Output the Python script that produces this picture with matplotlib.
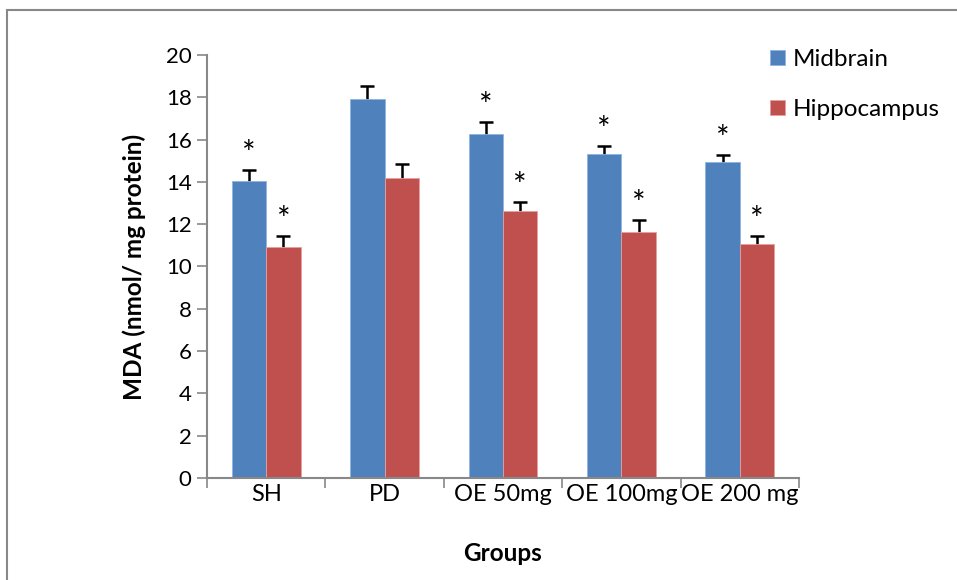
import matplotlib.pyplot as plt
import matplotlib.patches as patches
import numpy as np

# Data
groups = ["SH", "PD", "OE 50mg", "OE 100mg", "OE 200 mg"]
midbrain = [14.05, 17.92, 16.26, 15.32, 14.92]
midbrain_err = [0.50, 0.60, 0.57, 0.38, 0.33]
hippocampus = [10.92, 14.18, 12.62, 11.63, 11.08]
hippocampus_err = [0.50, 0.65, 0.43, 0.57, 0.34]
midbrain_sig = [True, False, True, True, True]
hippocampus_sig = [True, False, True, True, True]

plt.rcParams['font.family'] = ['Lato', 'DejaVu Sans']

fig = plt.figure(figsize=(9.57, 5.8), dpi=100)
ax = fig.add_axes([0.2163, 0.1759, 0.6186, 0.7293])

# Chart area border (only top and left edges show in the reference)
fig.patches.append(patches.Rectangle((7 / 957, -0.1), 1.2, 1.1 - 10 / 580, transform=fig.transFigure,
                                     fill=False, edgecolor="#888888", linewidth=1.5))

x = np.arange(len(groups))
width = 0.29
blue = "#4F81BD"
red = "#C0504D"

ax.bar(x - width / 2, midbrain, width, color=blue, edgecolor="#8DB3E2", linewidth=0.6,
       label="Midbrain", zorder=2)
ax.bar(x + width / 2, hippocampus, width, color=red, edgecolor="#E6A0A0", linewidth=0.6,
       label="Hippocampus", zorder=2)

# error bars sit behind the bars so only the upper half shows
ax.errorbar(x - width / 2, midbrain, yerr=midbrain_err, fmt="none",
            ecolor="black", elinewidth=1.8, capsize=5, capthick=1.8, zorder=1)
ax.errorbar(x + width / 2, hippocampus, yerr=hippocampus_err, fmt="none",
            ecolor="black", elinewidth=1.8, capsize=5, capthick=1.8, zorder=1)

# Significance stars
for i in range(len(groups)):
    if midbrain_sig[i]:
        ax.annotate("*", (x[i] - width / 2, midbrain[i] + midbrain_err[i]), xytext=(0, 0),
                    textcoords="offset points", ha="center", va="bottom", fontsize=23)
    if hippocampus_sig[i]:
        ax.annotate("*", (x[i] + width / 2, hippocampus[i] + hippocampus_err[i]), xytext=(0, 0),
                    textcoords="offset points", ha="center", va="bottom", fontsize=23)

ax.set_xlim(-0.5, len(groups) - 0.5)
ax.set_ylim(0, 20)
ax.set_yticks(np.arange(0, 21, 2))
ax.set_xticks(x)
ax.set_xticklabels(groups)
ax.set_xticks(np.arange(-0.5, len(groups), 1), minor=True)
ax.tick_params(axis="x", which="major", length=0, labelsize=17, pad=4)
ax.tick_params(axis="x", which="minor", length=7, color="#888888", width=1.2)
ax.tick_params(axis="y", length=7, color="#888888", width=1.2, labelsize=16, pad=4)

for side in ["top", "right"]:
    ax.spines[side].set_visible(False)
for side in ["left", "bottom"]:
    ax.spines[side].set_color("#888888")
    ax.spines[side].set_linewidth(1.5)

ax.set_ylabel("MDA (nmol/ mg protein)", fontsize=17.5, fontweight="bold", labelpad=14)
ax.set_xlabel("Groups", fontsize=17.5, fontweight="bold", labelpad=27)

ax.legend(loc="upper left", bbox_to_anchor=(770 / 957, 1 - 49 / 580), bbox_transform=fig.transFigure,
          frameon=False, fontsize=17.5, borderpad=0, borderaxespad=0,
          handlelength=0.62, handleheight=0.62, labelspacing=1.2, handletextpad=0.33)

fig.savefig("out.png", dpi=100)
